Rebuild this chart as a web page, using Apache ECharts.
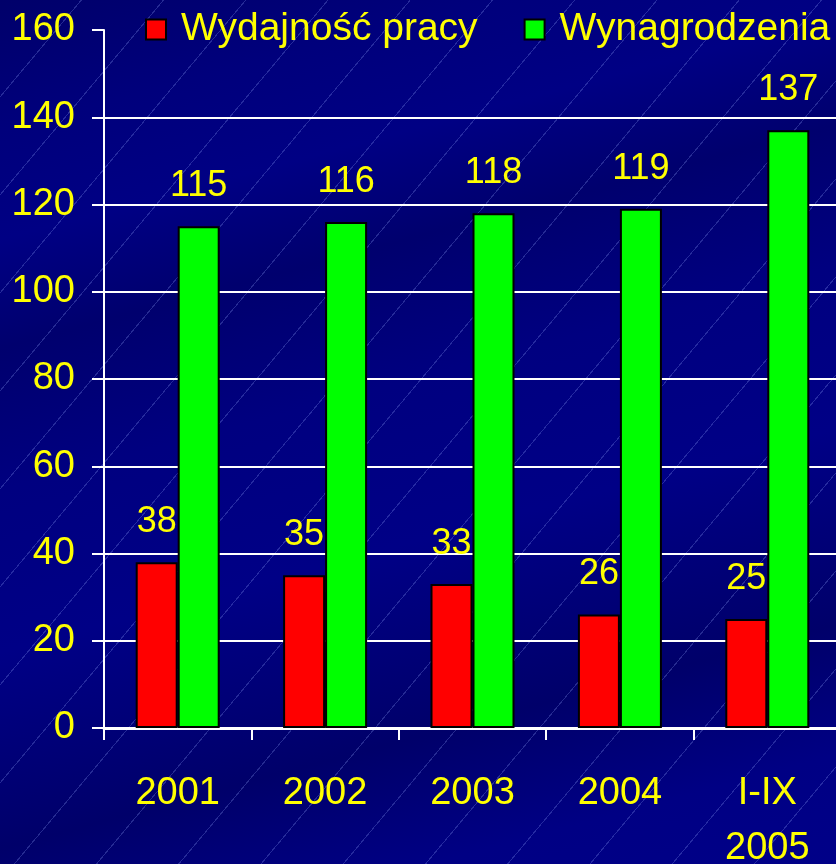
<!DOCTYPE html>
<html>
<head>
<meta charset="utf-8">
<script src="https://cdn.jsdelivr.net/npm/echarts@6/dist/echarts.min.js"></script>
<style>
html,body{margin:0;padding:0;}
body{
  width:836px;height:864px;overflow:hidden;
  background:
    repeating-linear-gradient(-50deg, rgba(150,170,255,0) 0px, rgba(150,170,255,0) 62px, rgba(150,170,255,0.25) 62px, rgba(150,170,255,0.25) 63px),
    linear-gradient(165deg, #00006a 0%, #00007c 12%, #000084 22%, #00006e 32%, #000080 45%, #000086 60%, #00006a 78%, #000084 90%, #000088 100%);
}
#chart{width:836px;height:864px;}
</style>
</head>
<body>
<div id="chart"></div>
<script>
var categories = ['2001', '2002', '2003', '2004', 'I-IX\n2005'];
var seriesNames = ['Wydajność pracy', 'Wynagrodzenia'];
var wydajnosc = [38, 35, 33, 26, 25];
var wynagrodzenia = [115, 116, 118, 119, 137];
var yTicks = { min: 0, max: 160, interval: 20 };

var FONT = 'Liberation Sans';
var YELLOW = '#ffff00';
var chart = echarts.init(document.getElementById('chart'), null, { renderer: 'canvas' });
var labelCfg = {
  show: true, position: 'top', distance: 22, color: YELLOW,
  fontFamily: FONT, fontSize: 36
};
var nLines = (yTicks.max - yTicks.min) / yTicks.interval + 1;
var gridColors = [];
for (var i = 0; i < nLines; i++) gridColors.push(i === nLines - 1 ? 'rgba(0,0,0,0)' : '#ffffff');

chart.setOption({
  backgroundColor: 'transparent',
  animation: false,
  legend: {
    top: 5, left: 140,
    itemWidth: 20, itemHeight: 20, itemGap: 46,
    textStyle: { color: YELLOW, fontFamily: FONT, fontSize: 39, padding: [0, 0, 0, 10] },
    data: [
      { name: seriesNames[0], icon: 'rect', itemStyle: { color: '#ff0000', borderColor: '#000', borderWidth: 2 } },
      { name: seriesNames[1], icon: 'rect', itemStyle: { color: '#00ff00', borderColor: '#000', borderWidth: 2 } }
    ]
  },
  grid: { left: 104, right: -5, top: 30, bottom: 136, containLabel: false, outerBoundsMode: 'none' },
  xAxis: {
    type: 'category',
    data: categories,
    axisLine: { lineStyle: { color: '#ffffff', width: 3 } },
    axisTick: { show: true, length: 12, lineStyle: { color: '#ffffff', width: 2 } },
    axisLabel: { color: YELLOW, fontFamily: FONT, fontSize: 38, margin: 38, lineHeight: 55 }
  },
  yAxis: {
    type: 'value',
    min: yTicks.min, max: yTicks.max, interval: yTicks.interval,
    axisLine: { show: true, lineStyle: { color: '#ffffff', width: 2 } },
    axisTick: { show: true, length: 12, lineStyle: { color: '#ffffff', width: 2 } },
    axisLabel: { color: YELLOW, fontFamily: FONT, fontSize: 38, margin: 29 },
    splitLine: { show: true, lineStyle: { color: gridColors, width: 2 } }
  },
  series: [
    {
      name: seriesNames[0], type: 'bar', data: wydajnosc,
      barWidth: 42, barGap: '0%',
      itemStyle: { color: '#ff0000', borderColor: '#000000', borderWidth: 2 },
      label: labelCfg
    },
    {
      name: seriesNames[1], type: 'bar', data: wynagrodzenia,
      barWidth: 42, barGap: '0%',
      itemStyle: { color: '#00ff00', borderColor: '#000000', borderWidth: 2 },
      label: labelCfg
    }
  ]
});
</script>
</body>
</html>
